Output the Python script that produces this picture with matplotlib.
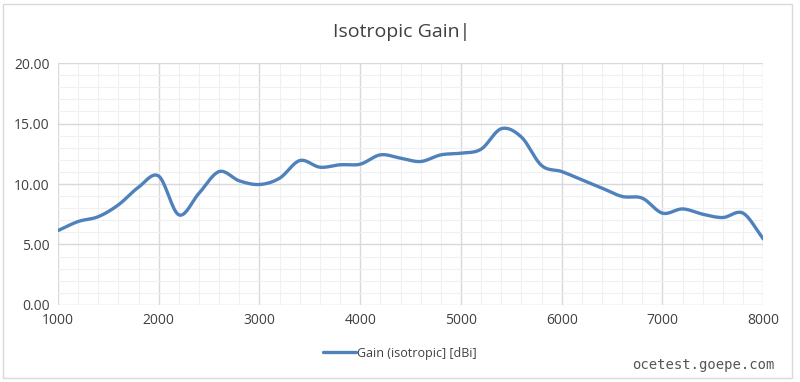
import numpy as np
import matplotlib.pyplot as plt
from matplotlib.patches import Rectangle

plt.rcParams["font.family"] = ["Open Sans", "DejaVu Sans"]

freq = [1000, 1200, 1400, 1600, 1800, 2000, 2200, 2400, 2600, 2800, 3000,
        3200, 3400, 3600, 3800, 4000, 4200, 4400, 4600, 4800, 5000,
        5200, 5400, 5600, 5800, 6000, 6200, 6400, 6600, 6800, 7000,
        7200, 7400, 7600, 7800, 8000]
gain = [6.15, 6.9, 7.3, 8.28, 9.74, 10.65, 7.45, 9.24, 11.03, 10.26, 9.96,
        10.48, 11.94, 11.39, 11.59, 11.64, 12.41, 12.14, 11.86, 12.41, 12.55,
        12.88, 14.57, 13.88, 11.53, 11.03, 10.34, 9.66, 8.97, 8.83, 7.59,
        7.94, 7.5, 7.23, 7.59, 5.46]
series_name = "Gain (isotropic] [dBi]"


def smooth(x, y, n=20):
    # Catmull-Rom, like Excel's smoothed line
    x = np.asarray(x, float)
    y = np.asarray(y, float)
    px = np.concatenate([[2 * x[0] - x[1]], x, [2 * x[-1] - x[-2]]])
    py = np.concatenate([[2 * y[0] - y[1]], y, [2 * y[-1] - y[-2]]])
    t = np.linspace(0, 1, n, endpoint=False)
    xs, ys = [], []
    for i in range(1, len(px) - 2):
        for p, out in ((px, xs), (py, ys)):
            p0, p1, p2, p3 = p[i - 1], p[i], p[i + 1], p[i + 2]
            out.extend(0.5 * (2 * p1 + (-p0 + p2) * t
                              + (2 * p0 - 5 * p1 + 4 * p2 - p3) * t ** 2
                              + (-p0 + 3 * p1 - 3 * p2 + p3) * t ** 3))
    xs.append(x[-1])
    ys.append(y[-1])
    return np.array(xs), np.array(ys)


fig = plt.figure(figsize=(8, 3.82), dpi=100)
fig.patches.append(Rectangle((0.004, 0.01), 0.986, 0.98, transform=fig.transFigure,
                             fill=False, edgecolor="#d9d9d9", linewidth=1))
ax = fig.add_axes([0.0725, 0.2016, 0.8815, 0.6334])

sx, sy = smooth(freq, gain)
ax.plot(sx, sy, color="#4f81bd", linewidth=2.4, solid_capstyle="round",
        label=series_name)

ax.set_xlim(1000, 8000)
ax.set_ylim(0, 20)
ax.set_xticks(range(1000, 8001, 1000))
ax.set_xticks(range(1000, 8001, 200), minor=True)
ax.set_yticks(range(0, 21, 5))
ax.set_yticks(range(0, 21, 1), minor=True)
ax.set_yticklabels([f"{v:.2f}" for v in range(0, 21, 5)])
ax.grid(which="major", color="#d9d9d9", linewidth=1)
ax.grid(which="minor", color="#f0f0f0", linewidth=0.8)
ax.set_axisbelow(True)
for s in ax.spines.values():
    s.set_visible(False)
ax.tick_params(which="both", length=0, labelsize=10, colors="#404040", pad=6)

# title with the text cursor right after it
fig.text(0.5025, 0.915, "Isotropic Gain|", ha="center", va="center",
         fontsize=14, color="#404040")

ax.legend(loc="center", bbox_to_anchor=(0.5, 0.075), bbox_transform=fig.transFigure,
          frameon=False, fontsize=9, handlelength=2.6, handletextpad=0.1,
          labelcolor="#404040")

fig.text(0.968, 0.045, "ocetest.goepe.com", ha="right", va="center",
         fontsize=10, family="DejaVu Sans Mono", color="#555555")

fig.savefig("out.png", dpi=100, facecolor="white")
